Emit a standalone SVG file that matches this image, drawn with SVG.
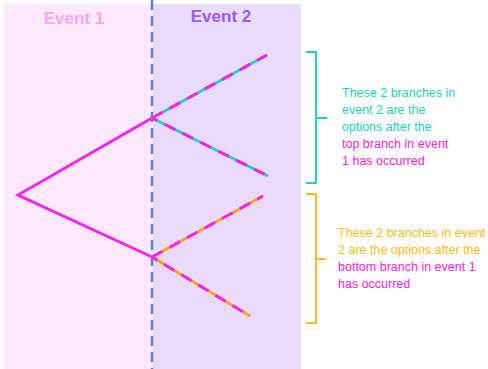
<svg xmlns="http://www.w3.org/2000/svg" width="488" height="369" viewBox="0 0 488 369">
  <style>
    .title { font-family: "Liberation Sans", Arial, sans-serif; font-weight: bold; font-size: 17px; text-anchor: middle; }
    .note { font-family: "Liberation Sans", Arial, sans-serif; font-size: 12.5px; }
    .solid { stroke: #FF22EE; stroke-width: 3; fill: none; stroke-linecap: round; }
    .dash { stroke: #FF22EE; stroke-width: 3; fill: none; stroke-dasharray: 12 8; }
    .brace { fill: none; stroke-width: 2; stroke-linejoin: round; }
  </style>
  <rect width="488" height="369" fill="#ffffff"/>
  <!-- event panels -->
  <g id="panels">
    <rect x="4" y="4" width="149" height="365" fill="#FDE9FC"/>
    <rect x="153" y="4" width="148" height="365" fill="#E8DBFC"/>
    <line x1="152" y1="0" x2="152" y2="369" stroke="#5F7FD6" stroke-width="2.5" stroke-dasharray="10 6"/>
    <text class="title" x="74" y="24" fill="#FBA3F2">Event 1</text>
    <text class="title" x="221" y="22" fill="#9A5AF5">Event 2</text>
  </g>
  <g id="connectors">
    <!-- event 1 branches -->
    <polyline class="solid" points="152,118 18,195 152,257"/>
    <!-- event 2 after top branch -->
    <line x1="152" y1="118" x2="267" y2="55" stroke="#1FD3C2" stroke-width="3"/>
    <line class="dash" x1="152" y1="118" x2="267" y2="55"/>
    <line x1="152" y1="118" x2="268" y2="176" stroke="#1FD3C2" stroke-width="3"/>
    <line class="dash" x1="152" y1="118" x2="268" y2="176" stroke-dashoffset="6"/>
    <!-- event 2 after bottom branch -->
    <line x1="152" y1="257" x2="263" y2="196" stroke="#F6A81A" stroke-width="3"/>
    <line class="dash" x1="152" y1="257" x2="263" y2="196"/>
    <line x1="152" y1="257" x2="250" y2="316" stroke="#F6A81A" stroke-width="3"/>
    <line class="dash" x1="152" y1="257" x2="250" y2="316" stroke-dashoffset="6"/>
  </g>
  <g id="top-note">
    <path class="brace" stroke="#1FD3C2" d="M306,52 H316 V118 H327 M316,118 V183 H306"/>
    <text class="note" fill="#1FCFC0">
      <tspan x="342" y="97">These 2 branches in</tspan>
      <tspan x="342" y="114">event 2 are the</tspan>
      <tspan x="342" y="131">options after the</tspan>
      <tspan x="342" y="148" fill="#FF22E8">top branch in event</tspan>
      <tspan x="342" y="165" fill="#FF22E8">1 has occurred</tspan>
    </text>
  </g>
  <g id="bottom-note">
    <path class="brace" stroke="#FBBA22" d="M306,194 H316 V259 H326 M316,259 V323 H306"/>
    <text class="note" fill="#FFBA22">
      <tspan x="338" y="237">These 2 branches in event</tspan>
      <tspan x="338" y="254">2 are the options after the</tspan>
      <tspan x="338" y="271" fill="#FF22E8">bottom branch in event 1</tspan>
      <tspan x="338" y="288" fill="#FF22E8">has occurred</tspan>
    </text>
  </g>
</svg>
